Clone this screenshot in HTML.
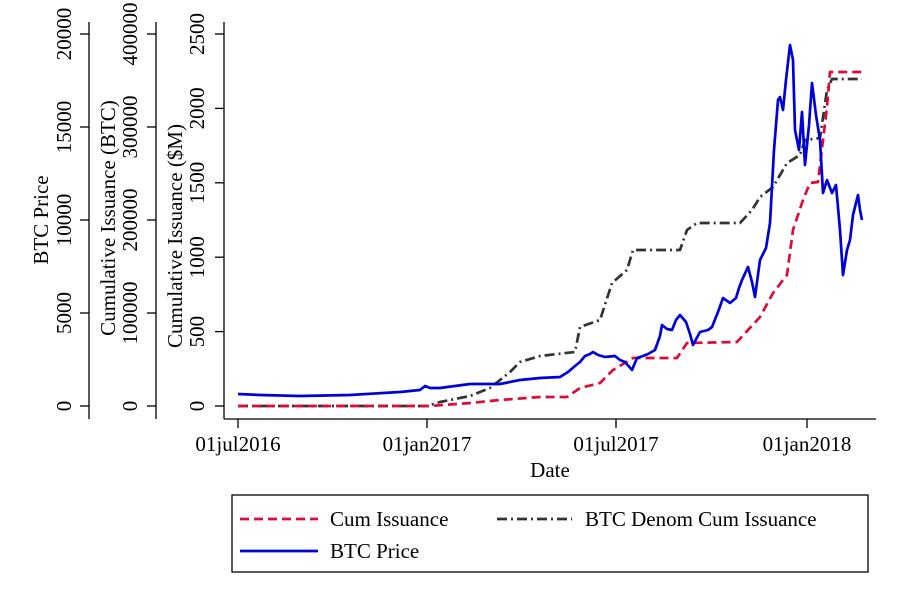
<!DOCTYPE html>
<html><head><style>body{margin:0;background:#fff}svg{display:block}</style></head><body>
<svg width="900" height="600" xmlns="http://www.w3.org/2000/svg" font-family="Liberation Serif, serif" font-size="21" fill="#000">
<rect width="900" height="600" fill="#fff"/>
<g stroke="#000" stroke-width="1.3" fill="none">
<line x1="89" y1="22" x2="89" y2="419"/>
<line x1="156" y1="22" x2="156" y2="419"/>
<line x1="224" y1="22" x2="224" y2="419"/>
<line x1="224" y1="419" x2="876" y2="419"/>
<line x1="80" y1="406" x2="89" y2="406"/><line x1="80" y1="313" x2="89" y2="313"/><line x1="80" y1="220" x2="89" y2="220"/><line x1="80" y1="127" x2="89" y2="127"/><line x1="80" y1="34" x2="89" y2="34"/>
<line x1="147" y1="406" x2="156" y2="406"/><line x1="147" y1="313" x2="156" y2="313"/><line x1="147" y1="220" x2="156" y2="220"/><line x1="147" y1="127" x2="156" y2="127"/><line x1="147" y1="34" x2="156" y2="34"/>
<line x1="215" y1="406" x2="224" y2="406"/><line x1="215" y1="331.6" x2="224" y2="331.6"/><line x1="215" y1="257.2" x2="224" y2="257.2"/><line x1="215" y1="182.8" x2="224" y2="182.8"/><line x1="215" y1="108.4" x2="224" y2="108.4"/><line x1="215" y1="34" x2="224" y2="34"/>
<line x1="238" y1="419" x2="238" y2="428"/><line x1="427" y1="419" x2="427" y2="428"/><line x1="616" y1="419" x2="616" y2="428"/><line x1="807" y1="419" x2="807" y2="428"/>
</g>
<g text-anchor="middle">
<g transform="translate(71,406) rotate(-90)"><text>0</text></g>
<g transform="translate(71,313) rotate(-90)"><text>5000</text></g>
<g transform="translate(71,220) rotate(-90)"><text>10000</text></g>
<g transform="translate(71,127) rotate(-90)"><text>15000</text></g>
<g transform="translate(71,34) rotate(-90)"><text>20000</text></g>
<g transform="translate(48,220) rotate(-90)"><text>BTC Price</text></g>
<g transform="translate(137,406) rotate(-90)"><text>0</text></g>
<g transform="translate(137,313) rotate(-90)"><text>100000</text></g>
<g transform="translate(137,220) rotate(-90)"><text>200000</text></g>
<g transform="translate(137,127) rotate(-90)"><text>300000</text></g>
<g transform="translate(137,34) rotate(-90)"><text>400000</text></g>
<g transform="translate(115,218) rotate(-90)"><text>Cumulative Issuance (BTC)</text></g>
<g transform="translate(204,406) rotate(-90)"><text>0</text></g>
<g transform="translate(204,331.6) rotate(-90)"><text>500</text></g>
<g transform="translate(204,257.2) rotate(-90)"><text>1000</text></g>
<g transform="translate(204,182.8) rotate(-90)"><text>1500</text></g>
<g transform="translate(204,108.4) rotate(-90)"><text>2000</text></g>
<g transform="translate(204,34) rotate(-90)"><text>2500</text></g>
<g transform="translate(182,236) rotate(-90)"><text>Cumulative Issuance ($M)</text></g>
<text x="238" y="451">01jul2016</text><text x="427" y="451">01jan2017</text><text x="616" y="451">01jul2017</text><text x="807" y="451">01jan2018</text>
<text x="550" y="477">Date</text>
</g>
<g fill="none" stroke-width="2.7" stroke-linejoin="round">
<polyline stroke="#333" stroke-dasharray="10,4,2,4" points="238,406 427,406 440,402 470,396 490,388 510,372 520,362 540,356 575,352 580,327 600,320 612,283 627,270 633,250 680,250 687,230 697,223 740,223 752,210 760,197 773,187 787,163 800,155 805,140 820,138 827,90 832,79 862,79"/>
<polyline stroke="#dc0c38" stroke-dasharray="9,5" points="238,406 430,406 470,403 500,400 540,397 567,397 580,388 600,383 613,370 633,358 677,358 687,343 737,342 760,317 773,293 787,275 793,230 803,200 810,183 818,182 827,107 830,72 862,72"/>
<polyline stroke="#0000d8" points="238,394 260,395 300,396 350,395 400,392 420,390 425,386 430,388 440,388 455,386 470,384 500,384 520,380 540,378 560,377 568,372 575,366 580,362 585,356 590,354 593,352 598,355 605,357 615,356 620,360 625,362 632,370 637,358 643,356 648,354 655,350 660,336 662,325 667,329 672,330 676,320 680,315 686,322 690,334 693,345 700,332 708,330 712,327 718,312 723,298 730,303 736,298 739,288 742,280 748,267 752,282 755,297 760,260 766,248 770,223 774,150 778,100 780,97 783,110 786,80 790,45 793,60 795,130 799,150 802,112 805,165 809,125 812,83 816,115 820,140 823,193 827,180 832,193 836,185 840,230 843,275 847,250 850,240 853,215 858,195 860,210 862,220"/>
</g>
<rect x="232" y="495" width="636" height="77" fill="none" stroke="#000" stroke-width="1.3"/>
<line x1="240" y1="519" x2="318" y2="519" stroke="#dc0c38" stroke-width="2.7" stroke-dasharray="9,5"/>
<line x1="497" y1="519" x2="572" y2="519" stroke="#333" stroke-width="2.7" stroke-dasharray="10,4,2,4"/>
<line x1="240" y1="551" x2="318" y2="551" stroke="#0000d8" stroke-width="2.7"/>
<text x="330" y="526">Cum Issuance</text>
<text x="585" y="526">BTC Denom Cum Issuance</text>
<text x="330" y="558">BTC Price</text>
</svg>
</body></html>
